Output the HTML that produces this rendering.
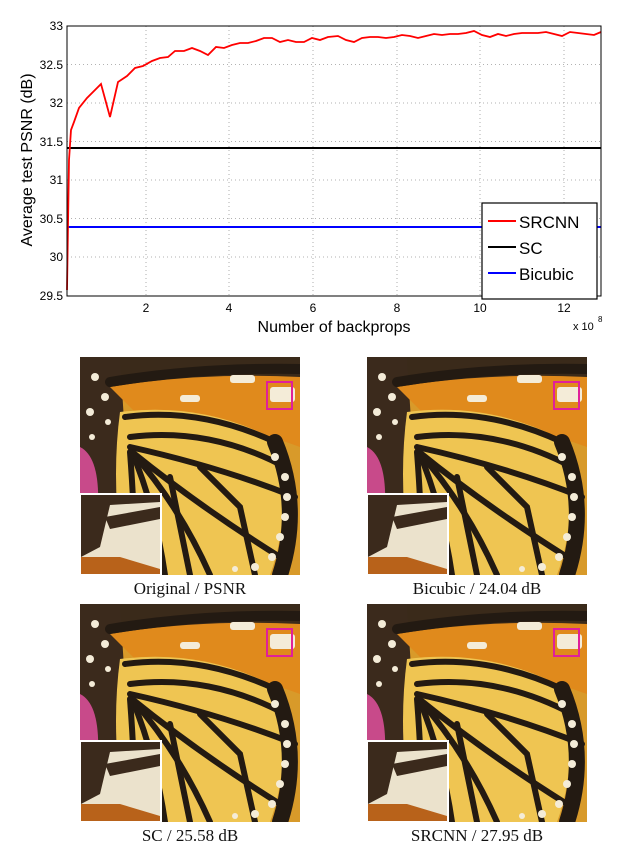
<!DOCTYPE html>
<html><head><meta charset="utf-8"><style>
body{margin:0;background:#fff;width:631px;height:864px;overflow:hidden;position:relative;font-family:"Liberation Sans",sans-serif}
.p{position:absolute;width:220px;height:218px}
.cap{position:absolute;font-family:"Liberation Serif",serif;font-size:17px;color:#111;width:260px;text-align:center}
</style></head><body>
<svg width="631" height="340" style="position:absolute;left:0;top:0" font-family="Liberation Sans, sans-serif">
<g stroke="#999" stroke-width="0.8" stroke-dasharray="1,3">
<line x1="146" y1="26" x2="146" y2="296"/><line x1="229" y1="26" x2="229" y2="296"/><line x1="313" y1="26" x2="313" y2="296"/><line x1="397" y1="26" x2="397" y2="296"/><line x1="480" y1="26" x2="480" y2="296"/><line x1="564" y1="26" x2="564" y2="296"/>
<line x1="67" y1="64.5" x2="601" y2="64.5"/><line x1="67" y1="103" x2="601" y2="103"/><line x1="67" y1="141.5" x2="601" y2="141.5"/><line x1="67" y1="180" x2="601" y2="180"/><line x1="67" y1="218.5" x2="601" y2="218.5"/><line x1="67" y1="257" x2="601" y2="257"/>
</g>
<line x1="67" y1="148" x2="601" y2="148" stroke="#000" stroke-width="2"/>
<line x1="67" y1="227" x2="601" y2="227" stroke="#00f" stroke-width="2"/>
<polyline fill="none" stroke="#f00" stroke-width="1.8" points="67,290 69,160 71,130 74,122 79,108 87,98 95,90 101,84 110,117 118,82 127,76 135,68 143,66 152,61 160,58 168,57 175,51 184,51 192,48 200,51 208,55 216,47 224,48 232,45 240,43 248,43 256,41 264,38 272,38 280,42 288,40 296,42 304,42 312,38 320,40 328,37 338,36 346,40 354,42 362,38 370,37 378,37 386,38 394,37 402,35 410,36 418,38 426,36 434,34 442,35 450,34 458,34 466,33 474,31 482,35 490,37 498,34 506,36 514,34 522,33 530,33 538,33 546,32 554,34 562,36 570,32 578,33 586,34 594,35 601,32"/>
<rect x="67" y="26" width="534" height="270" fill="none" stroke="#000" stroke-width="1"/>
<g font-size="12" fill="#000" text-anchor="end">
<text x="63" y="30">33</text><text x="63" y="69">32.5</text><text x="63" y="107">32</text><text x="63" y="146">31.5</text><text x="63" y="184">31</text><text x="63" y="223">30.5</text><text x="63" y="261">30</text><text x="63" y="300">29.5</text>
</g>
<g font-size="12" fill="#000" text-anchor="middle">
<text x="146" y="312">2</text><text x="229" y="312">4</text><text x="313" y="312">6</text><text x="397" y="312">8</text><text x="480" y="312">10</text><text x="564" y="312">12</text>
</g>
<text x="573" y="330" font-size="11">x 10</text><text x="598" y="322" font-size="8">8</text>
<text x="334" y="332" font-size="16" text-anchor="middle">Number of backprops</text>
<text transform="translate(32,160) rotate(-90)" font-size="16" text-anchor="middle">Average test PSNR (dB)</text>
<rect x="482" y="203" width="115" height="96" fill="#fff" stroke="#000" stroke-width="1.2"/>
<line x1="488" y1="221" x2="516" y2="221" stroke="#f00" stroke-width="2"/>
<line x1="488" y1="247" x2="516" y2="247" stroke="#000" stroke-width="2"/>
<line x1="488" y1="273" x2="516" y2="273" stroke="#00f" stroke-width="2"/>
<g font-size="17" fill="#000"><text x="519" y="228">SRCNN</text><text x="519" y="254">SC</text><text x="519" y="280">Bicubic</text></g>
</svg>

<svg width="0" height="0" style="position:absolute">
<defs>
<symbol id="bf" viewBox="0 0 220 218">
<rect width="220" height="218" fill="#d89a2a"/>
<rect width="220" height="30" fill="#3a2a1a"/>
<path d="M0,0 L40,0 L45,80 L30,218 L0,218Z" fill="#3b2a1c"/>
<path d="M0,90 Q20,100 18,150 L0,160Z" fill="#c84a8a"/>
<path d="M30,30 Q120,15 220,20 L220,90 Q140,60 60,60Z" fill="#e08a1c"/>
<path d="M40,55 Q120,45 190,80 Q215,150 190,218 L45,218 Q30,130 40,55Z" fill="#efc552"/>
<g stroke="#231a12" stroke-width="6" fill="none" stroke-linecap="round">
<path d="M45,60 Q120,50 195,85"/><path d="M50,80 Q130,70 205,110"/><path d="M50,90 Q140,110 215,140"/>
<path d="M52,95 Q120,150 200,200"/><path d="M52,95 Q100,150 130,218"/><path d="M52,95 Q75,150 85,218"/>
<path d="M50,95 Q55,160 55,218"/><path d="M120,110 L160,150 L175,218"/><path d="M90,120 L110,218"/>
<path d="M195,85 Q222,150 200,218" stroke-width="16"/>
<path d="M30,25 Q120,10 220,12" stroke-width="10"/>
</g>
<g fill="#f4ecd8">
<circle cx="195" cy="100" r="4"/><circle cx="205" cy="120" r="4"/><circle cx="207" cy="140" r="4"/><circle cx="205" cy="160" r="4"/><circle cx="200" cy="180" r="4"/><circle cx="192" cy="200" r="4"/><circle cx="175" cy="210" r="4"/><circle cx="155" cy="212" r="3"/>
<circle cx="15" cy="20" r="4"/><circle cx="25" cy="40" r="4"/><circle cx="10" cy="55" r="4"/><circle cx="28" cy="65" r="3"/><circle cx="12" cy="80" r="3"/>
<rect x="150" y="18" width="25" height="8" rx="3"/><rect x="190" y="30" width="25" height="15" rx="3"/><rect x="100" y="38" width="20" height="7" rx="3"/>
</g>
<rect x="187" y="25" width="25" height="27" fill="none" stroke="#e0209a" stroke-width="2"/>
<rect x="0" y="137" width="81" height="81" fill="#ebe2cc" stroke="#fff" stroke-width="2"/>
<path d="M1,138 L80,138 L80,145 L30,148 L20,190 L1,200Z" fill="#3b2a1c"/>
<path d="M25,160 L80,150 L80,162 L30,172Z" fill="#3b2a1c"/>
<path d="M1,200 L40,200 L80,212 L80,217 L1,217Z" fill="#b8621a"/>
<rect x="0" y="137" width="81" height="81" fill="none" stroke="#fff" stroke-width="2"/>
</symbol>
</defs>
</svg>
<svg class="p" style="left:80px;top:357px"><use href="#bf"/></svg>
<svg class="p" style="left:367px;top:357px"><use href="#bf"/></svg>
<svg class="p" style="left:80px;top:604px"><use href="#bf"/></svg>
<svg class="p" style="left:367px;top:604px"><use href="#bf"/></svg>
<div class="cap" style="left:60px;top:579px">Original / PSNR</div>
<div class="cap" style="left:347px;top:579px">Bicubic / 24.04 dB</div>
<div class="cap" style="left:60px;top:826px">SC / 25.58 dB</div>
<div class="cap" style="left:347px;top:826px">SRCNN / 27.95 dB</div>
</body></html>
